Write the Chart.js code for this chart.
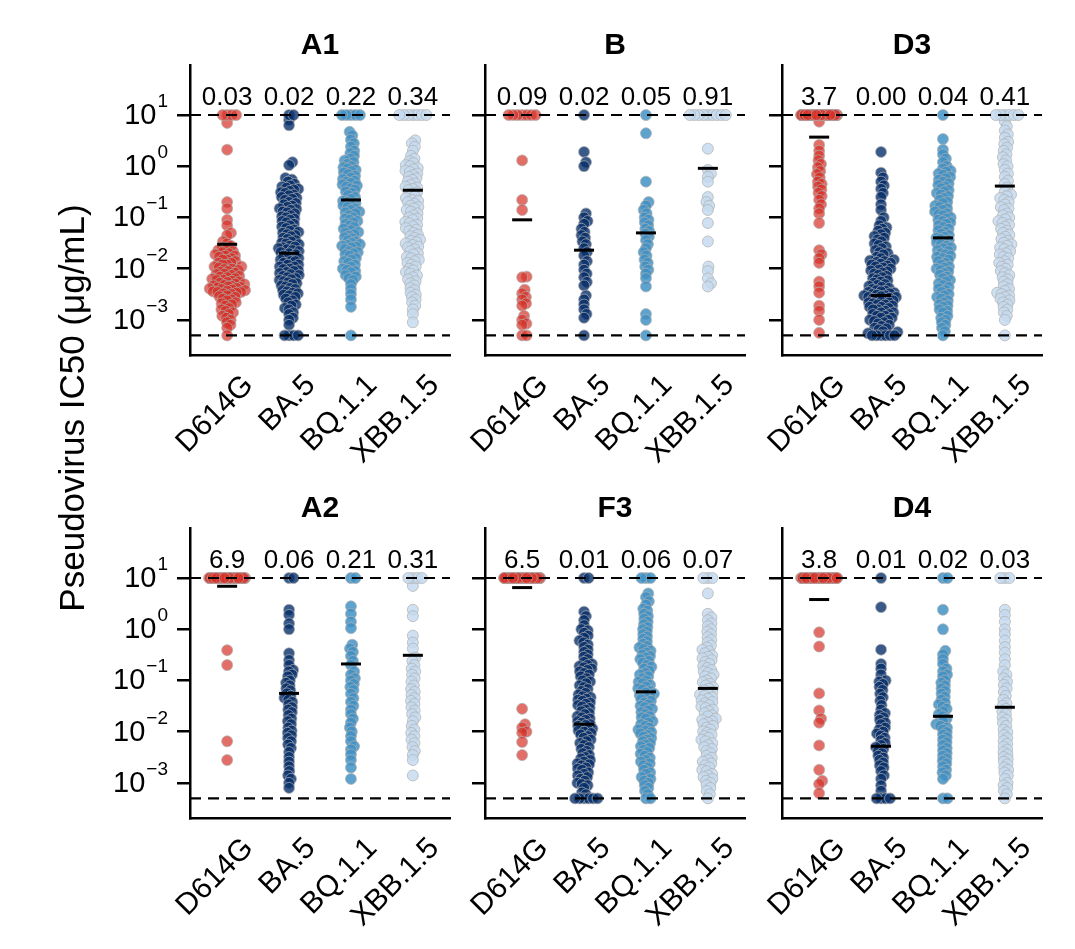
<!DOCTYPE html>
<html>
<head>
<meta charset="utf-8">
<title>Pseudovirus IC50</title>
<script src="https://cdn.jsdelivr.net/npm/chart.js@4.4.1/dist/chart.umd.min.js"></script>
<style>
  body { margin: 0; background: #fff; }
  #figure { position: relative; width: 1075px; height: 949px; }
  #figure canvas { position: absolute; left: 0; top: 0; }
</style>
</head>
<body>
<div id="figure"></div>
<script>
// Categories and panels
const variants = ['D614G', 'BA.5', 'BQ.1.1', 'XBB.1.5'];
const panelNames = ['A1', 'B', 'D3', 'A2', 'F3', 'D4'];
const yTicks = [0.001, 0.01, 0.1, 1, 10];
const yTickExp = ['\u22123', '\u22122', '\u22121', '0', '1'];
const upperLimit = 10;
const lowerLimit = 0.0005;

// IC50 values (ug/mL) below the 10 ug/mL ceiling
const A1_D614G = [7.0, 2.1, 0.2, 0.15, 0.09, 0.07, 0.05, 0.045, 0.034, 0.031, 0.028, 0.026, 0.025, 0.023, 0.022, 0.021, 0.02, 0.019, 0.018, 0.018, 0.017, 0.016, 0.015, 0.015, 0.014, 0.013, 0.013, 0.012, 0.012, 0.011, 0.011, 0.0105, 0.01, 0.0098, 0.0094, 0.009, 0.0087, 0.0083, 0.008, 0.0078, 0.0075, 0.0072, 0.007, 0.0068, 0.0065, 0.0063, 0.0061, 0.006, 0.0058, 0.0056, 0.0055, 0.0053, 0.0051, 0.005, 0.0048, 0.0047, 0.0046, 0.0045, 0.0044, 0.0043, 0.0042, 0.0041, 0.004, 0.0039, 0.0038, 0.0037, 0.0036, 0.0035, 0.0035, 0.0034, 0.0033, 0.0032, 0.003, 0.0029, 0.0028, 0.0026, 0.0025, 0.0024, 0.0022, 0.0021, 0.002, 0.0019, 0.0017, 0.0016, 0.0015, 0.0014, 0.0013, 0.0012, 0.0011, 0.001, 0.0009, 0.0008, 0.0007, 0.0005];
const A1_BA5 = [8.0, 6.3, 1.2, 1.05, 0.59, 0.55, 0.5, 0.45, 0.42, 0.4, 0.38, 0.36, 0.35, 0.33, 0.31, 0.3, 0.28, 0.27, 0.25, 0.24, 0.23, 0.22, 0.2, 0.19, 0.18, 0.17, 0.16, 0.15, 0.145, 0.14, 0.13, 0.125, 0.12, 0.11, 0.105, 0.1, 0.095, 0.09, 0.085, 0.08, 0.075, 0.07, 0.066, 0.062, 0.058, 0.055, 0.052, 0.05, 0.047, 0.045, 0.043, 0.04, 0.038, 0.036, 0.034, 0.032, 0.031, 0.03, 0.028, 0.027, 0.026, 0.025, 0.024, 0.023, 0.022, 0.021, 0.02, 0.019, 0.018, 0.017, 0.016, 0.016, 0.015, 0.014, 0.014, 0.013, 0.012, 0.012, 0.011, 0.011, 0.01, 0.0098, 0.0093, 0.009, 0.0086, 0.0082, 0.0078, 0.0075, 0.0072, 0.0068, 0.0065, 0.0062, 0.006, 0.0057, 0.0054, 0.0052, 0.005, 0.0047, 0.0045, 0.0042, 0.004, 0.0038, 0.0036, 0.0034, 0.0033, 0.0031, 0.003, 0.0028, 0.0026, 0.0024, 0.0022, 0.002, 0.0019, 0.0017, 0.0016, 0.0014, 0.0013, 0.0011, 0.001, 0.0008, 0.0005, 0.0005, 0.0005, 0.0005];
const A1_BQ11 = [4.7, 4.0, 3.3, 2.8, 2.4, 2.0, 1.8, 1.6, 1.4, 1.3, 1.2, 1.1, 1.0, 0.95, 0.9, 0.85, 0.8, 0.75, 0.7, 0.65, 0.6, 0.56, 0.52, 0.5, 0.47, 0.44, 0.42, 0.4, 0.37, 0.35, 0.32, 0.3, 0.27, 0.25, 0.23, 0.21, 0.2, 0.19, 0.18, 0.17, 0.16, 0.15, 0.14, 0.13, 0.125, 0.12, 0.11, 0.1, 0.095, 0.09, 0.085, 0.08, 0.075, 0.07, 0.065, 0.06, 0.056, 0.052, 0.05, 0.047, 0.044, 0.041, 0.039, 0.036, 0.034, 0.032, 0.03, 0.029, 0.028, 0.027, 0.026, 0.024, 0.022, 0.021, 0.02, 0.019, 0.018, 0.016, 0.015, 0.014, 0.013, 0.012, 0.011, 0.01, 0.0095, 0.009, 0.0085, 0.0075, 0.007, 0.0065, 0.006, 0.005, 0.004, 0.0032, 0.0025, 0.0018, 0.0005];
const A1_XBB15 = [3.2, 2.8, 2.4, 2.0, 1.6, 1.4, 1.25, 1.15, 1.05, 1.0, 0.92, 0.87, 0.82, 0.77, 0.72, 0.67, 0.62, 0.58, 0.54, 0.5, 0.46, 0.43, 0.4, 0.38, 0.36, 0.34, 0.31, 0.29, 0.26, 0.24, 0.22, 0.21, 0.2, 0.185, 0.17, 0.16, 0.15, 0.14, 0.13, 0.12, 0.11, 0.1, 0.095, 0.09, 0.082, 0.077, 0.072, 0.067, 0.062, 0.058, 0.054, 0.05, 0.046, 0.043, 0.04, 0.037, 0.035, 0.033, 0.031, 0.029, 0.027, 0.026, 0.024, 0.022, 0.02, 0.019, 0.017, 0.016, 0.015, 0.014, 0.013, 0.012, 0.011, 0.01, 0.0093, 0.0086, 0.008, 0.0074, 0.0068, 0.0062, 0.0057, 0.0052, 0.0047, 0.0042, 0.0038, 0.0034, 0.0031, 0.0028, 0.0025, 0.0022, 0.0019, 0.0016, 0.0013, 0.0009];

const B_D614G = [1.3, 0.22, 0.14, 0.007, 0.0068, 0.0039, 0.0033, 0.0028, 0.0025, 0.0021, 0.0019, 0.0012, 0.001, 0.00085, 0.0008, 0.0005, 0.0005];
const B_BA5 = [1.9, 1.2, 1.0, 0.12, 0.1, 0.085, 0.075, 0.06, 0.052, 0.045, 0.04, 0.034, 0.03, 0.025, 0.021, 0.018, 0.014, 0.012, 0.0095, 0.008, 0.0068, 0.0055, 0.0047, 0.003, 0.0025, 0.002, 0.0016, 0.0013, 0.0011, 0.0005];
const B_BQ11 = [4.4, 0.5, 0.2, 0.17, 0.14, 0.12, 0.1, 0.09, 0.08, 0.07, 0.06, 0.054, 0.048, 0.042, 0.036, 0.03, 0.025, 0.021, 0.018, 0.015, 0.013, 0.011, 0.0095, 0.008, 0.0065, 0.0045, 0.0013, 0.001, 0.0005];
const B_XBB15 = [2.2, 0.85, 0.72, 0.62, 0.5, 0.25, 0.2, 0.17, 0.14, 0.078, 0.034, 0.011, 0.009, 0.0065, 0.0052, 0.0045];

const D3_D614G = [7.4, 2.6, 2.0, 1.6, 1.3, 1.1, 0.95, 0.8, 0.7, 0.6, 0.5, 0.45, 0.4, 0.35, 0.3, 0.26, 0.22, 0.18, 0.15, 0.12, 0.078, 0.023, 0.019, 0.016, 0.013, 0.0056, 0.0045, 0.0034, 0.0019, 0.0015, 0.001, 0.00056];
const D3_BA5 = [1.9, 0.75, 0.6, 0.5, 0.42, 0.36, 0.3, 0.25, 0.18, 0.14, 0.1, 0.085, 0.07, 0.064, 0.06, 0.055, 0.05, 0.047, 0.043, 0.04, 0.037, 0.034, 0.031, 0.029, 0.027, 0.025, 0.023, 0.021, 0.02, 0.019, 0.017, 0.016, 0.015, 0.0145, 0.014, 0.0135, 0.013, 0.0125, 0.012, 0.0115, 0.011, 0.0105, 0.01, 0.0096, 0.0092, 0.0088, 0.0084, 0.008, 0.0076, 0.0072, 0.0068, 0.0065, 0.0062, 0.0059, 0.0056, 0.0053, 0.005, 0.0048, 0.0046, 0.0044, 0.0042, 0.004, 0.0038, 0.0037, 0.0036, 0.0035, 0.0034, 0.0033, 0.0032, 0.0031, 0.003, 0.003, 0.0029, 0.0028, 0.0028, 0.0027, 0.0026, 0.0025, 0.0025, 0.0024, 0.0023, 0.0022, 0.0022, 0.0021, 0.002, 0.002, 0.0019, 0.0018, 0.0018, 0.0017, 0.0016, 0.0016, 0.0015, 0.0014, 0.0014, 0.0013, 0.0013, 0.0012, 0.0012, 0.0011, 0.0011, 0.001, 0.001, 0.00095, 0.0009, 0.00085, 0.0008, 0.00076, 0.0007, 0.00068, 0.00065, 0.0006, 0.00058, 0.00055, 0.0005, 0.0005, 0.0005, 0.0005, 0.0005, 0.0005];
const D3_BQ11 = [3.4, 2.1, 1.7, 1.4, 1.2, 1.0, 0.9, 0.82, 0.78, 0.72, 0.68, 0.62, 0.58, 0.54, 0.5, 0.46, 0.43, 0.4, 0.37, 0.34, 0.32, 0.3, 0.28, 0.26, 0.24, 0.22, 0.2, 0.19, 0.17, 0.16, 0.15, 0.14, 0.13, 0.12, 0.115, 0.11, 0.1, 0.095, 0.09, 0.085, 0.08, 0.075, 0.07, 0.065, 0.06, 0.056, 0.052, 0.048, 0.045, 0.042, 0.04, 0.038, 0.036, 0.034, 0.032, 0.03, 0.028, 0.026, 0.025, 0.023, 0.022, 0.02, 0.019, 0.018, 0.017, 0.016, 0.015, 0.014, 0.013, 0.012, 0.011, 0.0105, 0.01, 0.0094, 0.0088, 0.0082, 0.0076, 0.007, 0.0065, 0.006, 0.0056, 0.0052, 0.0048, 0.0044, 0.0041, 0.0038, 0.0035, 0.0032, 0.003, 0.0028, 0.0026, 0.0024, 0.0022, 0.002, 0.0019, 0.0018, 0.0016, 0.0015, 0.0014, 0.0012, 0.0011, 0.001, 0.0009, 0.0008, 0.0007, 0.0006, 0.0005];
const D3_XBB15 = [7.5, 6.0, 5.0, 4.2, 3.6, 3.0, 2.7, 2.3, 2.0, 1.7, 1.5, 1.3, 1.1, 1.0, 0.85, 0.72, 0.62, 0.52, 0.45, 0.38, 0.32, 0.28, 0.26, 0.24, 0.22, 0.2, 0.18, 0.16, 0.15, 0.14, 0.12, 0.11, 0.1, 0.092, 0.085, 0.078, 0.072, 0.066, 0.06, 0.055, 0.05, 0.046, 0.042, 0.038, 0.035, 0.032, 0.03, 0.028, 0.026, 0.024, 0.022, 0.02, 0.019, 0.017, 0.016, 0.014, 0.013, 0.012, 0.011, 0.01, 0.009, 0.0082, 0.0075, 0.0068, 0.0062, 0.0056, 0.005, 0.0045, 0.004, 0.0037, 0.0034, 0.0032, 0.003, 0.0028, 0.0026, 0.0024, 0.0022, 0.002, 0.0018, 0.0016, 0.0014, 0.0012, 0.001, 0.0005];

const A2_D614G = [0.39, 0.2, 0.0065, 0.0028];
const A2_BA5 = [2.4, 1.9, 1.3, 1.0, 0.34, 0.25, 0.2, 0.16, 0.15, 0.13, 0.12, 0.1, 0.09, 0.08, 0.07, 0.064, 0.056, 0.05, 0.046, 0.042, 0.038, 0.034, 0.03, 0.027, 0.024, 0.021, 0.018, 0.016, 0.014, 0.012, 0.0105, 0.0095, 0.0085, 0.0075, 0.0065, 0.0056, 0.0048, 0.004, 0.0032, 0.0026, 0.0021, 0.0017, 0.0014, 0.0012, 0.001, 0.0008];
const A2_BQ11 = [2.8, 2.0, 1.4, 1.05, 0.5, 0.42, 0.36, 0.3, 0.24, 0.2, 0.15, 0.13, 0.11, 0.1, 0.085, 0.075, 0.065, 0.055, 0.045, 0.038, 0.032, 0.027, 0.022, 0.018, 0.015, 0.012, 0.01, 0.0082, 0.0065, 0.0052, 0.0045, 0.0036, 0.0028, 0.002, 0.0012];
const A2_XBB15 = [7.0, 2.4, 1.8, 0.75, 0.55, 0.42, 0.28, 0.24, 0.2, 0.17, 0.15, 0.13, 0.11, 0.095, 0.08, 0.068, 0.06, 0.052, 0.045, 0.04, 0.035, 0.03, 0.026, 0.022, 0.019, 0.016, 0.013, 0.011, 0.0095, 0.0082, 0.007, 0.006, 0.005, 0.0042, 0.0035, 0.0028, 0.0014];

const F3_D614G = [0.028, 0.014, 0.012, 0.01, 0.0095, 0.0063, 0.0035];
const F3_BA5 = [2.2, 1.8, 1.5, 1.2, 1.0, 0.95, 0.85, 0.75, 0.68, 0.6, 0.55, 0.5, 0.45, 0.4, 0.36, 0.32, 0.29, 0.26, 0.23, 0.21, 0.2, 0.19, 0.18, 0.17, 0.16, 0.15, 0.14, 0.13, 0.12, 0.11, 0.1, 0.095, 0.088, 0.08, 0.074, 0.068, 0.062, 0.057, 0.053, 0.049, 0.047, 0.044, 0.042, 0.04, 0.037, 0.035, 0.033, 0.031, 0.029, 0.027, 0.025, 0.023, 0.022, 0.02, 0.019, 0.018, 0.017, 0.016, 0.015, 0.014, 0.0135, 0.013, 0.012, 0.0115, 0.011, 0.0105, 0.01, 0.0094, 0.0088, 0.0082, 0.0076, 0.007, 0.0065, 0.006, 0.0055, 0.005, 0.0046, 0.0042, 0.0038, 0.0035, 0.0032, 0.003, 0.0028, 0.0026, 0.0024, 0.0023, 0.0022, 0.002, 0.0019, 0.0018, 0.0016, 0.0015, 0.0014, 0.0013, 0.0012, 0.0011, 0.001, 0.00095, 0.0009, 0.0008, 0.00065, 0.0006, 0.0005, 0.0005, 0.0005, 0.0005, 0.0005, 0.0005];
const F3_BQ11 = [5.0, 4.2, 3.5, 3.0, 2.5, 2.3, 2.0, 1.8, 1.6, 1.4, 1.25, 1.1, 1.0, 0.9, 0.8, 0.72, 0.65, 0.58, 0.52, 0.47, 0.44, 0.41, 0.38, 0.35, 0.32, 0.3, 0.28, 0.26, 0.24, 0.22, 0.2, 0.185, 0.17, 0.155, 0.14, 0.13, 0.12, 0.11, 0.1, 0.094, 0.088, 0.082, 0.076, 0.07, 0.066, 0.062, 0.058, 0.055, 0.052, 0.049, 0.046, 0.043, 0.04, 0.037, 0.034, 0.032, 0.03, 0.028, 0.026, 0.024, 0.022, 0.02, 0.019, 0.018, 0.016, 0.015, 0.014, 0.013, 0.012, 0.011, 0.0105, 0.0098, 0.0092, 0.0086, 0.008, 0.0075, 0.007, 0.0065, 0.006, 0.0056, 0.0052, 0.0048, 0.0044, 0.004, 0.0037, 0.0034, 0.0031, 0.0028, 0.0026, 0.0024, 0.0022, 0.002, 0.0018, 0.0016, 0.0015, 0.0013, 0.0012, 0.0011, 0.001, 0.0009, 0.0008, 0.0007, 0.0006, 0.0005, 0.0005];
const F3_XBB15 = [5.0, 2.0, 1.7, 1.5, 1.3, 1.15, 1.0, 0.9, 0.8, 0.7, 0.62, 0.55, 0.48, 0.44, 0.4, 0.37, 0.34, 0.31, 0.29, 0.27, 0.25, 0.23, 0.21, 0.19, 0.175, 0.16, 0.15, 0.14, 0.13, 0.12, 0.11, 0.1, 0.093, 0.086, 0.08, 0.074, 0.069, 0.064, 0.06, 0.056, 0.053, 0.05, 0.047, 0.044, 0.041, 0.038, 0.036, 0.033, 0.031, 0.029, 0.027, 0.025, 0.023, 0.021, 0.02, 0.018, 0.017, 0.016, 0.015, 0.014, 0.013, 0.012, 0.011, 0.0102, 0.0095, 0.0088, 0.0082, 0.0076, 0.007, 0.0065, 0.006, 0.0055, 0.005, 0.0046, 0.0042, 0.0038, 0.0034, 0.0031, 0.0028, 0.0026, 0.0024, 0.0022, 0.002, 0.0018, 0.0017, 0.0015, 0.0014, 0.0013, 0.0012, 0.0011, 0.001, 0.0009, 0.0008, 0.0007, 0.0006, 0.0005];

const D4_D614G = [0.87, 0.46, 0.056, 0.026, 0.018, 0.015, 0.0054, 0.0018, 0.0011, 0.00095, 0.00063];
const D4_BA5 = [2.7, 0.4, 0.21, 0.17, 0.13, 0.1, 0.095, 0.085, 0.075, 0.065, 0.055, 0.047, 0.04, 0.033, 0.027, 0.023, 0.021, 0.019, 0.017, 0.015, 0.014, 0.012, 0.011, 0.01, 0.0092, 0.0084, 0.0076, 0.0068, 0.006, 0.0055, 0.005, 0.0046, 0.0042, 0.0038, 0.0034, 0.0031, 0.0028, 0.0025, 0.0022, 0.002, 0.0017, 0.0014, 0.0012, 0.0009, 0.0007, 0.0005, 0.0005, 0.0005, 0.0005];
const D4_BQ11 = [2.4, 1.0, 0.38, 0.32, 0.26, 0.21, 0.17, 0.15, 0.13, 0.12, 0.1, 0.09, 0.08, 0.07, 0.062, 0.055, 0.048, 0.042, 0.037, 0.034, 0.031, 0.028, 0.025, 0.022, 0.02, 0.018, 0.016, 0.014, 0.013, 0.012, 0.011, 0.0098, 0.0088, 0.0078, 0.007, 0.0062, 0.0055, 0.0048, 0.0043, 0.0038, 0.0034, 0.003, 0.0027, 0.0024, 0.0021, 0.0018, 0.0016, 0.0014, 0.0012, 0.0005, 0.0005];
const D4_XBB15 = [2.4, 1.9, 1.4, 1.0, 0.8, 0.6, 0.45, 0.35, 0.26, 0.2, 0.15, 0.13, 0.11, 0.095, 0.082, 0.07, 0.06, 0.05, 0.042, 0.036, 0.032, 0.028, 0.025, 0.022, 0.019, 0.017, 0.015, 0.013, 0.011, 0.0098, 0.0086, 0.0075, 0.0066, 0.0058, 0.0051, 0.0045, 0.004, 0.0036, 0.0032, 0.0029, 0.0026, 0.0023, 0.002, 0.0018, 0.0016, 0.0014, 0.0012, 0.001, 0.0009, 0.0008, 0.0007, 0.0006, 0.0005];

// Number of antibodies at the 10 ug/mL ceiling, per variant
const A1_capped = [4, 2, 5, 7];
const B_capped = [7, 1, 1, 9];
const D3_capped = [110, 0, 1, 6];
const A2_capped = [55, 2, 2, 4];
const F3_capped = [100, 2, 3, 3];
const D4_capped = [65, 1, 2, 3];

// Geometric means (black bars and labels)
const A1_means = [0.03, 0.02, 0.22, 0.34];
const B_means = [0.09, 0.023, 0.05, 0.91];
const D3_means = [3.7, 0.003, 0.04, 0.41];
const A2_means = [6.9, 0.056, 0.21, 0.31];
const F3_means = [6.5, 0.014, 0.06, 0.07];
const D4_means = [3.8, 0.0052, 0.02, 0.03];

const panelValues = [
  [A1_D614G, A1_BA5, A1_BQ11, A1_XBB15],
  [B_D614G, B_BA5, B_BQ11, B_XBB15],
  [D3_D614G, D3_BA5, D3_BQ11, D3_XBB15],
  [A2_D614G, A2_BA5, A2_BQ11, A2_XBB15],
  [F3_D614G, F3_BA5, F3_BQ11, F3_XBB15],
  [D4_D614G, D4_BA5, D4_BQ11, D4_XBB15]
];
const panelCapped = [A1_capped, B_capped, D3_capped, A2_capped, F3_capped, D4_capped];
const panelMeans = [A1_means, B_means, D3_means, A2_means, F3_means, D4_means];

// Style
const FONT = '"Liberation Sans", Arial, Helvetica, sans-serif';
const pointColors = ['rgba(215,48,39,0.7)', 'rgba(8,48,107,0.8)', 'rgba(66,146,198,0.85)', 'rgba(198,219,239,0.85)'];
const pointBorder = 'rgba(175,175,175,0.7)';
const colLeft = [190, 485, 782];
const rowTop = [65, 528];
const plotW = 260, plotH = 290;
const YAXIS_W = 13;
const SPACING = 4.5;  // beeswarm distance between centres (px)
const CORRAL = 18;    // beeswarm half width (px)

function groupValues(p, k) {
  const vals = panelValues[p][k].slice();
  for (let i = 0; i < panelCapped[p][k]; i++) vals.push(upperLimit);
  return vals;
}

// Beeswarm offsets in pixels, placed from low to high values
function swarm(ys) {
  const order = ys.map((y, i) => i).sort((a, b) => ys[b] - ys[a] || a - b);
  const placed = [], offs = [];
  let spill = 0;
  order.forEach(i => {
    const y = ys[i];
    const near = placed.filter(q => Math.abs(q.y - y) < SPACING);
    const cands = [0];
    near.forEach(q => {
      const dx = Math.sqrt(SPACING * SPACING - (q.y - y) ** 2);
      cands.push(q.x + dx, q.x - dx);
    });
    cands.sort((a, b) => Math.abs(a) - Math.abs(b));
    let x = cands.find(c => near.every(q => (q.x - c) ** 2 + (q.y - y) ** 2 >= SPACING * SPACING - 0.01));
    if (x === undefined || Math.abs(x) > CORRAL) {
      spill++;
      x = -CORRAL + 2 * CORRAL * ((spill * 0.618034) % 1);
    }
    placed.push({ x, y });
    offs[i] = x;
  });
  return offs;
}

function decorPlugin(p) {
  return {
    id: 'decor' + p,
    afterDatasetsDraw(chart) {
      const { ctx, chartArea: a, scales: { x, y } } = chart;
      ctx.save();
      ctx.strokeStyle = '#000';
      ctx.fillStyle = '#000';

      // dashed limits
      ctx.lineWidth = 2.2;
      ctx.setLineDash([11, 7]);
      [upperLimit, lowerLimit].forEach(v => {
        const py = y.getPixelForValue(v);
        ctx.beginPath();
        ctx.moveTo(a.left, py);
        ctx.lineTo(a.right, py);
        ctx.stroke();
      });
      ctx.setLineDash([]);

      // geometric mean bars and labels
      ctx.lineWidth = 3;
      ctx.font = '26px ' + FONT;
      ctx.textAlign = 'center';
      ctx.textBaseline = 'alphabetic';
      panelMeans[p].forEach((m, k) => {
        const px = x.getPixelForValue(k + 1);
        const py = y.getPixelForValue(m);
        ctx.beginPath();
        ctx.moveTo(px - 10, py);
        ctx.lineTo(px + 10, py);
        ctx.stroke();
        ctx.fillText(m >= 1 ? m.toFixed(1) : m.toFixed(2), px, y.getPixelForValue(upperLimit) - 10);
      });

      // panel title
      ctx.font = 'bold 30px ' + FONT;
      ctx.fillText(panelNames[p], (a.left + a.right) / 2, a.top - 11);

      // rotated category labels
      ctx.font = '30px ' + FONT;
      ctx.textAlign = 'right';
      ctx.textBaseline = 'top';
      variants.forEach((v, k) => {
        ctx.save();
        ctx.translate(x.getPixelForValue(k + 1) + 11, a.bottom + 15);
        ctx.rotate(-Math.PI / 4);
        ctx.fillText(v, 0, 0);
        ctx.restore();
      });

      // y tick labels on the left column only
      if (p % 3 === 0) {
        ctx.textAlign = 'right';
        ctx.textBaseline = 'alphabetic';
        yTicks.forEach((t, i) => {
          const py = y.getPixelForValue(t);
          const right = a.left - YAXIS_W - 9;
          ctx.font = '19px ' + FONT;
          const ew = ctx.measureText(yTickExp[i]).width;
          ctx.fillText(yTickExp[i], right, py - 8);
          ctx.font = '29px ' + FONT;
          ctx.fillText('10', right - ew - 1, py + 9);
        });
      }

      // shared y title
      if (p === 0) {
        ctx.save();
        ctx.translate(74, 408);
        ctx.rotate(-Math.PI / 2);
        ctx.font = '35px ' + FONT;
        ctx.textAlign = 'center';
        ctx.textBaseline = 'middle';
        ctx.fillText('Pseudovirus IC50 (\u03BCg/mL)', 0, 0);
        ctx.restore();
      }
      ctx.restore();
    }
  };
}

const figure = document.getElementById('figure');

panelNames.forEach((name, p) => {
  const canvas = document.createElement('canvas');
  canvas.width = 1075;
  canvas.height = 949;
  figure.appendChild(canvas);
  const left = colLeft[p % 3];
  const top = rowTop[Math.floor(p / 3)];
  const groups = variants.map((v, k) => groupValues(p, k));

  const chart = new Chart(canvas, {
    type: 'scatter',
    data: {
      datasets: groups.map((vals, k) => ({
        label: variants[k],
        data: vals.map(v => ({ x: k + 1, y: v })),
        backgroundColor: pointColors[k],
        borderColor: pointBorder,
        borderWidth: 1,
        pointRadius: 5.5,
        pointHoverRadius: 5.5
      }))
    },
    options: {
      responsive: false,
      animation: false,
      devicePixelRatio: 1,
      events: [],
      layout: {
        padding: { left: left - YAXIS_W, top: top, right: 1075 - left - plotW, bottom: 949 - top - plotH }
      },
      plugins: { legend: { display: false }, tooltip: { enabled: false } },
      scales: {
        x: {
          type: 'linear', min: 0.4, max: 4.6,
          ticks: { display: false },
          grid: { display: false },
          border: { color: '#000', width: 2.5 },
          afterFit: s => { s.height = 0; }
        },
        y: {
          type: 'logarithmic', min: 2.07e-4, max: 94.6,
          ticks: { display: false },
          grid: { drawOnChartArea: false, tickLength: YAXIS_W, color: '#000', lineWidth: 2.5 },
          border: { color: '#000', width: 2.5 },
          afterBuildTicks: s => { s.ticks = yTicks.map(v => ({ value: v })); },
          afterFit: s => { s.width = YAXIS_W; }
        }
      }
    },
    plugins: [decorPlugin(p)]
  });

  // spread points sideways with the scales of this panel
  const xs = chart.scales.x, ys = chart.scales.y;
  const unit = xs.getPixelForValue(1) - xs.getPixelForValue(0);
  groups.forEach((vals, k) => {
    const offs = swarm(vals.map(v => ys.getPixelForValue(v)));
    chart.data.datasets[k].data = vals.map((v, i) => ({ x: k + 1 + offs[i] / unit, y: v }));
  });
  chart.update();
});
</script>
</body>
</html>
